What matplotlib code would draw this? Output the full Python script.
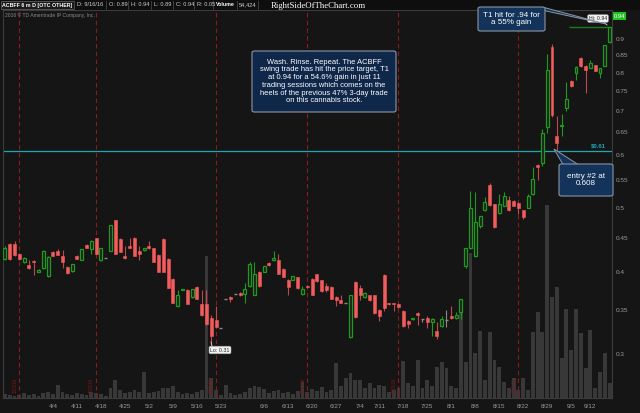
import matplotlib
matplotlib.use('Agg')
import matplotlib.pyplot as plt
import matplotlib.patches as mpatches
from matplotlib.lines import Line2D
from matplotlib.ticker import NullLocator
import numpy as np
import pandas as pd

plt.rcParams['font.family'] = ['Liberation Sans', 'DejaVu Sans']

# trading days, 3/18/16 .. 9/16/16
holidays = ['2016-03-25', '2016-05-30', '2016-07-04', '2016-09-05']
dates = pd.bdate_range('2016-03-18', '2016-09-16', freq='C', holidays=holidays)

opens = [.418, .440, .441, .425, .413, .409, .415, .400, .405, .394,
         .428, .430, .422, .407, .401, .423, .417, .439, .432, .449,
         .416, .419, .430, .478, .448, .423, .437, .450, .430, .431,
         .438, .434, .424, .448, .418, .390, .355, .375, .375, .366,
         .379, .357, .357, .340, .338, .329, .363, .366, .370, .371,
         .370, .380, .369, .400, .400, .412, .416, .416, .404, .389,
         .389, .392, .370, .381, .390, .396, .388, .380, .379, .366,
         .362, .359, .318, .386, .378, .366, .368, .368, .350, .395,
         .358, .358, .357, .349, .337, .339, .346, .339, .340, .336,
         .325, .331, .338, .343, .340, .348, .408, .434, .422, .469,
         .495, .541, .506, .490, .503, .514, .512, .508, .495, .500,
         .524, .580, .585, .663, .874, .642, .664, .707, .776, .800,
         .842, .820, .814, .821, .798, .820, .890]
highs = [.437, .442, .445, .427, .421, .416, .416, .403, .431, .422,
         .430, .432, .431, .408, .410, .424, .432, .440, .446, .450,
         .434, .419, .470, .479, .449, .438, .449, .451, .437, .435,
         .445, .435, .425, .449, .419, .391, .375, .377, .376, .376,
         .380, .375, .375, .344, .355, .329, .363, .367, .370, .373,
         .384, .414, .413, .401, .408, .413, .429, .425, .405, .390,
         .394, .393, .381, .382, .391, .397, .389, .385, .380, .367,
         .368, .359, .368, .387, .382, .373, .369, .369, .351, .396,
         .359, .359, .358, .350, .338, .340, .347, .339, .342, .340,
         .335, .343, .350, .355, .347, .363, .434, .530, .528, .486,
         .519, .545, .507, .524, .527, .520, .513, .509, .496, .525,
         .575, .583, .658, .855, .885, .687, .694, .775, .779, .820,
         .845, .822, .836, .823, .814, .882, .940]
lows = [.417, .417, .423, .416, .412, .404, .395, .399, .404, .393,
        .422, .424, .405, .397, .400, .418, .416, .434, .425, .426,
        .415, .419, .429, .426, .428, .418, .434, .423, .417, .430,
        .433, .413, .400, .400, .378, .358, .354, .375, .357, .365,
        .363, .343, .332, .310, .329, .329, .363, .360, .370, .367,
        .359, .379, .368, .379, .399, .408, .415, .396, .392, .368,
        .388, .377, .369, .378, .368, .386, .373, .373, .363, .355,
        .358, .359, .317, .340, .362, .365, .361, .345, .337, .349,
        .356, .349, .352, .330, .329, .338, .332, .335, .329, .320,
        .316, .330, .330, .339, .339, .339, .405, .433, .421, .466,
        .494, .503, .465, .489, .502, .494, .502, .489, .480, .499,
        .523, .550, .578, .648, .686, .608, .641, .700, .760, .779,
        .815, .745, .812, .804, .786, .818, .889]
closes = [.435, .418, .424, .418, .419, .405, .414, .402, .429, .421,
          .423, .424, .414, .398, .410, .418, .432, .434, .445, .426,
          .434, .419, .470, .426, .428, .419, .434, .423, .425, .435,
          .434, .413, .400, .400, .378, .358, .368, .377, .357, .376,
          .363, .344, .333, .320, .330, .329, .363, .363, .370, .368,
          .376, .411, .396, .380, .408, .409, .419, .397, .393, .379,
          .394, .378, .376, .379, .369, .387, .374, .375, .364, .362,
          .359, .359, .368, .341, .368, .371, .362, .346, .342, .352,
          .357, .357, .353, .331, .333, .340, .344, .339, .336, .339,
          .319, .339, .338, .340, .344, .363, .434, .499, .476, .485,
          .510, .504, .468, .507, .521, .495, .503, .500, .483, .521,
          .552, .576, .648, .808, .690, .626, .667, .730, .765, .815,
          .820, .808, .827, .806, .812, .880, .940]
# volume, thousands of shares
volume_k = [14, 11, 7, 11, 18, 11, 14, 7, 18, 22,
            14, 47, 22, 14, 11, 18, 14, 11, 22, 18,
            14, 7, 36, 65, 29, 18, 22, 29, 22, 94,
            18, 22, 25, 36, 36, 43, 22, 14, 18, 14,
            22, 29, 511, 72, 29, 11, 47, 18, 11, 14,
            22, 36, 43, 40, 32, 18, 25, 29, 18, 22,
            14, 25, 58, 22, 32, 25, 40, 22, 29, 126,
            43, 72, 90, 65, 65, 36, 54, 36, 47, 43,
            22, 29, 36, 133, 54, 43, 137, 36, 65, 43,
            112, 130, 108, 43, 36, 306, 130, 522, 162, 241,
            65, 238, 137, 112, 58, 36, 72, 29, 72, 29,
            238, 310, 238, 695, 364, 400, 144, 320, 173, 320,
            234, 108, 245, 36, 94, 162, 54]

tick_weeks = ['2016-04-04', '2016-04-11', '2016-04-18', '2016-04-25', '2016-05-02',
              '2016-05-09', '2016-05-16', '2016-05-23', '2016-06-06', '2016-06-13',
              '2016-06-20', '2016-06-27', '2016-07-04', '2016-07-11', '2016-07-18',
              '2016-07-25', '2016-08-01', '2016-08-08', '2016-08-15', '2016-08-22',
              '2016-08-29', '2016-09-05', '2016-09-12']
event_dates = ['2016-03-23', '2016-04-15', '2016-05-20', '2016-06-17', '2016-07-15', '2016-08-19']

entry_price = 0.61
target_price = 0.94

W, H = 640, 413
BG = '#1c1c1c'
FIG_BG = '#151515'
GREEN = '#1e9a1e'
RED = '#f25c5c'
GRAY_TXT = '#9a9a9a'


def fx(x):
    return x / W


def fy(y):
    return 1 - y / H


fig = plt.figure(figsize=(6.4, 4.13), dpi=100, facecolor=FIG_BG)
rect = [fx(3), fy(398), fx(612) - fx(3), fy(10) - fy(398)]

x = np.arange(len(dates))
o = np.array(opens)
h = np.array(highs)
l = np.array(lows)
c = np.array(closes)

# volume behind
axv = fig.add_axes(rect, facecolor=BG)
axv.bar(x, volume_k, width=0.8, color='#383838', zorder=1)
axv.set_ylim(0, 1397)
axv.set_xlim(-0.4, 126.5)
axv.axis('off')

ax = fig.add_axes(rect, facecolor='none', sharex=axv)
ax.set_yscale('log')
ax.set_ylim(0.2574, 0.9957)
ax.set_xlim(-0.4, 126.5)

for d in event_dates:
    i = int(np.searchsorted(dates, pd.Timestamp(d)))
    ax.axvline(i, color='#8a1c1c', lw=0.8, ls=(0, (4, 3)), zorder=1)
    ts = pd.Timestamp(d)
    ax.text(i - 0.9, 0.262, '%d/%d/16' % (ts.month, ts.day), rotation=90, fontsize=3.3,
            color='#7a1a1a', ha='center', va='bottom', zorder=1)

ax.axhline(entry_price, color='#1fa8b4', lw=0.9, zorder=2)
ax.text(125.2, entry_price * 1.008, '$0.61', color='#1fa8b4', fontsize=4.2, fontweight='bold',
        ha='right', va='bottom')
ax.hlines(target_price, 117.5, 126.5, color='#1f7a1f', lw=1.0, zorder=2)

up = c > o
down = c < o
flat = c == o
wick_col = np.where(up, GREEN, np.where(down, '#c04848', '#8a8a8a'))
ax.vlines(x, l, h, colors=wick_col, lw=0.8, zorder=3)
bw = 0.62
ax.bar(x[up], c[up] - o[up], bottom=o[up], width=bw, facecolor=BG, edgecolor=GREEN, lw=0.9, zorder=4)
ax.bar(x[down], o[down] - c[down], bottom=c[down], width=bw, facecolor=RED, edgecolor=RED, lw=0.4, zorder=4)
ax.hlines(c[flat], x[flat] - bw / 2, x[flat] + bw / 2, colors='#8a8a8a', lw=1.0, zorder=4)

# axes styling
ax.yaxis.tick_right()
yt = [0.3, 0.35, 0.4, 0.45, 0.5, 0.55, 0.6, 0.65, 0.7, 0.75, 0.8, 0.85, 0.9]
ax.set_yticks(yt)
ax.set_yticklabels([('%.2f' % v).rstrip('0') for v in yt])
ax.yaxis.set_minor_locator(NullLocator())
tick_idx = [int(np.searchsorted(dates, pd.Timestamp(t))) for t in tick_weeks]
ax.set_xticks(tick_idx)
ax.set_xticklabels(['%d/%d' % (pd.Timestamp(t).month, pd.Timestamp(t).day) for t in tick_weeks])
ax.tick_params(axis='both', length=0, labelsize=4.6, colors=GRAY_TXT, pad=2.5)
ax.tick_params(axis='x', pad=4)
for s in ax.spines.values():
    s.set_color('#3c3c3c')
    s.set_linewidth(0.8)

# header
fig.patches.append(mpatches.Rectangle((0, fy(10)), 1, 1 - fy(10), transform=fig.transFigure,
                                      facecolor='#0e0e0e', edgecolor='none', zorder=0))
fig.patches.append(mpatches.Rectangle((fx(0.5), fy(9)), fx(73), fy(0.8) - fy(9), transform=fig.transFigure,
                                      facecolor='#1a1a1a', edgecolor='#6a6a6a', lw=0.5, zorder=1))
header = [('ACBFF 6 m D [OTC OTHER]', 2, True), ('D: 9/16/16', 77, False), ('O: 0.89', 109, False),
          ('H: 0.94', 131, False), ('L: 0.89', 154, False), ('C: 0.94', 176, False),
          ('R: 0.05', 197, False), ('Volume', 216, True), ('54,424', 239, False)]
for txt, px, bold in header:
    fig.text(fx(px), fy(5), txt, fontsize=3.8 if bold else 4.1, color='white' if bold else '#cfcfcf',
             fontweight='bold' if bold else 'normal', va='center', ha='left', zorder=2)
for sx in [74, 106, 128, 151, 173, 194, 213, 237, 258]:
    fig.lines.append(Line2D([fx(sx), fx(sx)], [fy(1), fy(9)], transform=fig.transFigure,
                            color='#444444', lw=0.6))
fig.text(fx(318), fy(5.5), 'RightSideOfTheChart.com', fontsize=6.3, color='white',
         family=['Liberation Serif', 'DejaVu Serif'], ha='center', va='center')
fig.text(fx(5), fy(15.5), '2016 \u00a9 TD Ameritrade IP Company, Inc.', fontsize=3.6,
         color='#8a8a8a', va='center')


def callout(x0, y0, x1, y1, text, fs, face='#13335a', edge='#8a96a3', pointer=None):
    if pointer is not None:
        fig.patches.append(mpatches.Polygon([(fx(a), fy(b)) for a, b in pointer], closed=True,
                                            transform=fig.transFigure, facecolor=face,
                                            edgecolor=edge, lw=0.7, zorder=9))
    fig.patches.append(mpatches.FancyBboxPatch((fx(x0), fy(y1)), fx(x1) - fx(x0), fy(y0) - fy(y1),
                                               boxstyle='round,pad=0,rounding_size=0.004',
                                               transform=fig.transFigure, facecolor=face,
                                               edgecolor=edge, lw=0.8, zorder=10))
    fig.text(fx((x0 + x1) / 2), fy((y0 + y1) / 2), text, fontsize=fs, color='white',
             ha='center', va='center', linespacing=1.15, zorder=11)


callout(252, 51, 396, 112,
        'Wash. Rinse. Repeat. The ACBFF\nswing trade has hit the price target, T1\n'
        'at 0.94 for a 54.6% gain in just 11\ntrading sessions which comes on the\n'
        'heels of the previous 47% 3-day trade\non this cannabis stock.', 5.4, face='#0f2749')
callout(478, 7, 545, 31, 'T1 hit for .94 for\na 55% gain', 5.8,
        pointer=[(530, 7.5), (544, 7.5), (606, 24)])
callout(559, 164, 613, 196, 'entry #2 at\n0.608', 5.8,
        pointer=[(563, 164.5), (578, 164.5), (554, 149)])

# small labels
fig.lines.append(Line2D([fx(604), fx(607)], [fy(22), fy(25)], transform=fig.transFigure,
                        color='#dddddd', lw=0.6))
fig.text(fx(598), fy(18.5), 'Hi: 0.94', fontsize=3.8, color='#222222', ha='center', va='center',
         bbox=dict(boxstyle='round,pad=0.25,rounding_size=0.3', facecolor='#f2f2f2', edgecolor='#999999', lw=0.4))
fig.lines.append(Line2D([fx(211), fx(212)], [fy(342), fy(346)], transform=fig.transFigure,
                        color='#dddddd', lw=0.6))
fig.text(fx(220), fy(350), 'Lo: 0.31', fontsize=3.8, color='#222222', ha='center', va='center',
         bbox=dict(boxstyle='round,pad=0.25,rounding_size=0.3', facecolor='#f2f2f2', edgecolor='#999999', lw=0.4))
fig.text(fx(619.5), fy(16), '0.94', fontsize=4.2, color='white', ha='center', va='center',
         bbox=dict(boxstyle='square,pad=0.2', facecolor='#1fc21f', edgecolor='none'))

fig.savefig('out.png', dpi=100, facecolor=FIG_BG)
